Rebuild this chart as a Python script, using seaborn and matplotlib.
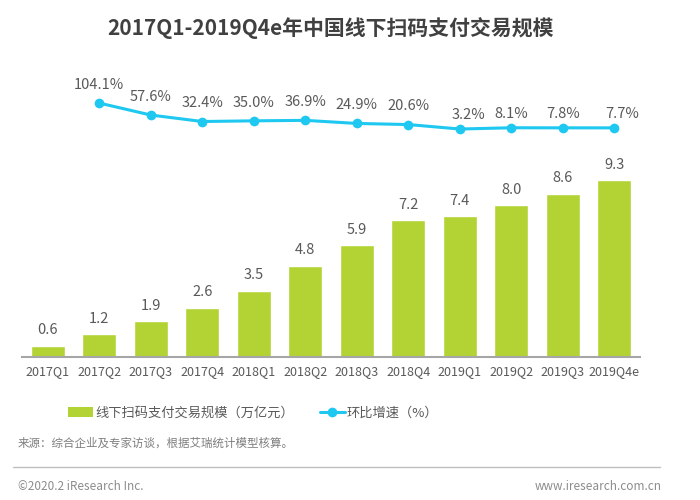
import numpy as np
import pandas as pd
import seaborn as sns
import matplotlib.pyplot as plt
from matplotlib.patches import Patch
from matplotlib.lines import Line2D

# 数据
quarters = ['2017Q1', '2017Q2', '2017Q3', '2017Q4', '2018Q1', '2018Q2',
            '2018Q3', '2018Q4', '2019Q1', '2019Q2', '2019Q3', '2019Q4e']
scale = [0.6, 1.2, 1.9, 2.6, 3.5, 4.8, 5.9, 7.2, 7.4, 8.0, 8.6, 9.3]
growth_quarters = quarters[1:]
growth = [104.1, 57.6, 32.4, 35.0, 36.9, 24.9, 20.6, 3.2, 8.1, 7.8, 7.7]

bar_color = '#b3d334'
line_color = '#1ec8f0'
text_color = '#595959'

sns.set_theme(style='white')
plt.rcParams['font.family'] = ['Noto Sans CJK SC', 'DejaVu Sans']

bar_df = pd.DataFrame({'quarter': quarters, 'scale': scale})
line_df = pd.DataFrame({'pos': [quarters.index(q) for q in growth_quarters],
                        'growth': growth})

fig = plt.figure(figsize=(7, 5), dpi=100)
ax = fig.add_axes([22 / 700, 1 - 357 / 500, 618 / 700, 297 / 500])

sns.barplot(data=bar_df, x='quarter', y='scale', color=bar_color,
            width=0.66, saturation=1, ax=ax)
ax.set_ylim(0, 297 / 19)
ax.set_xlim(-0.5, len(quarters) - 0.5)
ax.set_xlabel('')
ax.set_ylabel('')
ax.set_yticks([])
for s in ['top', 'right', 'left']:
    ax.spines[s].set_visible(False)
ax.spines['bottom'].set_color('#a6a6a6')
ax.spines['bottom'].set_linewidth(1.5)
ax.tick_params(axis='x', length=0, labelsize=9, labelcolor=text_color, pad=6)

for i, v in enumerate(scale):
    ax.annotate(f'{v:.1f}', (i, v), xytext=(0, 6), textcoords='offset points',
                ha='center', va='bottom', fontsize=10.5, color=text_color)

# 环比增速折线
ax2 = ax.twinx()
sns.lineplot(data=line_df, x='pos', y='growth', color=line_color, linewidth=2.2,
             marker='o', markersize=7, markeredgewidth=0, ax=ax2)
ax2.set_ylim(-882.6, 271.4)
ax2.set_yticks([])
ax2.set_ylabel('')
ax2.set_xlabel('')
for s in ax2.spines.values():
    s.set_visible(False)
ax2.set_xlim(-0.5, len(quarters) - 0.5)

for p, g in zip(line_df['pos'], growth):
    dx = 6 if g < 5 or p == len(quarters) - 1 else 0
    dy = 5 if g < 10 else 8
    ax2.annotate(f'{g:.1f}%', (p, g), xytext=(dx, dy), textcoords='offset points',
                 ha='center', va='bottom', fontsize=10.5, color=text_color)

# 标题
fig.text(0.472, 0.944, '2017Q1-2019Q4e年中国线下扫码支付交易规模', ha='center',
         va='center', fontsize=15, fontweight='bold', color='#404040')

# 图例
leg1 = fig.legend([Patch(facecolor=bar_color, edgecolor='none')],
                  ['线下扫码支付交易规模（万亿元）'], loc='center left',
                  bbox_to_anchor=(56 / 700, 0.174), frameon=False, fontsize=9.5,
                  labelcolor=text_color, handlelength=1.9, handleheight=0.8,
                  handletextpad=0.15)
fig.legend([Line2D([0], [0], color=line_color, lw=2.2, marker='o', markersize=6)],
           ['环比增速（%）'], loc='center left', bbox_to_anchor=(308 / 700, 0.174),
           frameon=False, fontsize=9.5, labelcolor=text_color, handlelength=1.9,
           handletextpad=0.15)

fig.text(18 / 700, 1 - 443 / 500, '来源：综合企业及专家访谈，根据艾瑞统计模型核算。',
         ha='left', va='center', fontsize=8.3, color='#7f7f7f')
fig.add_artist(Line2D([13 / 700, 660 / 700], [1 - 467 / 500, 1 - 467 / 500],
                      color='#bfbfbf', lw=1))
fig.text(18 / 700, 1 - 487 / 500, '©2020.2 iResearch Inc.', ha='left', va='center',
         fontsize=8.5, color='#8c8c8c')
fig.text(662 / 700, 1 - 487 / 500, 'www.iresearch.com.cn', ha='right', va='center',
         fontsize=8.5, color='#8c8c8c')

fig.savefig('out.png', dpi=100)
